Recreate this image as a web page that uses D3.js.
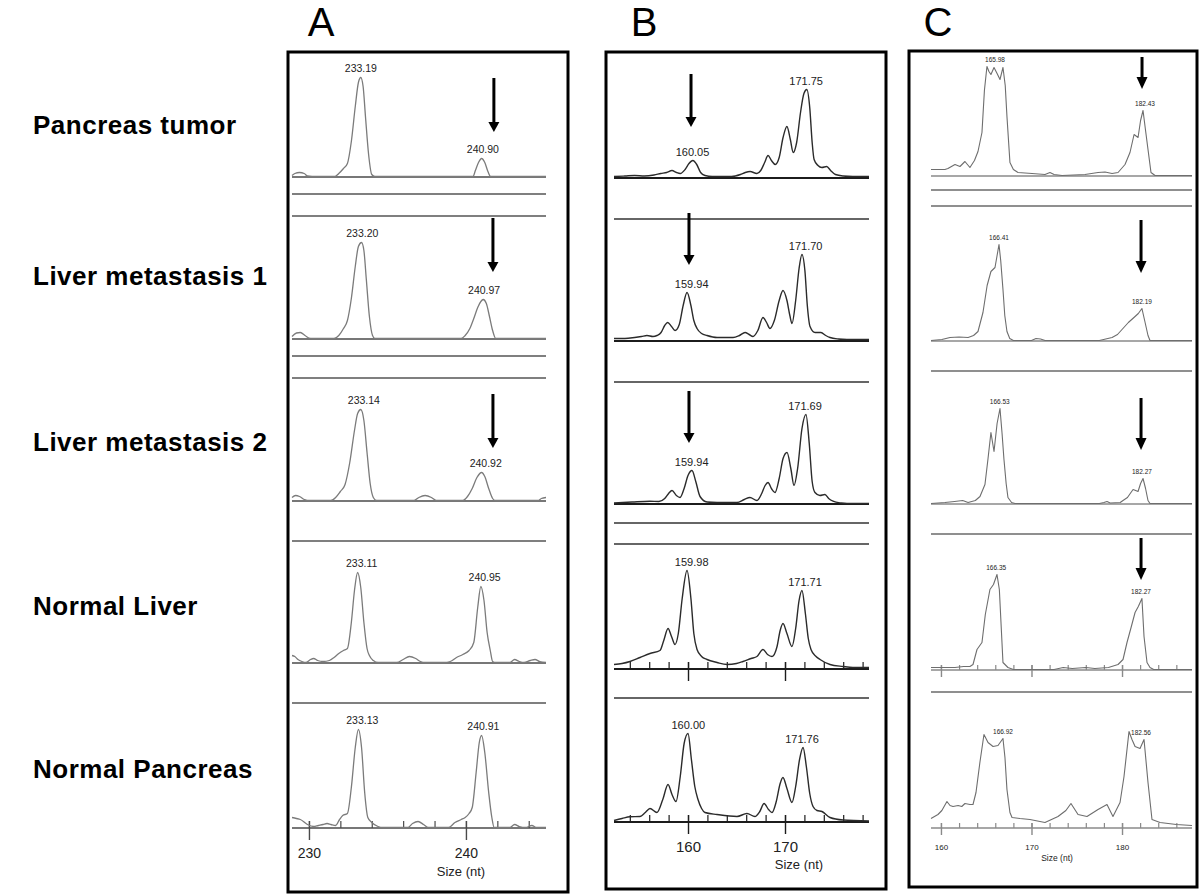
<!DOCTYPE html>
<html><head><meta charset="utf-8">
<script src="https://cdn.jsdelivr.net/npm/d3@7"></script>
<style>body{margin:0;background:#fff}svg{display:block}</style>
</head><body><svg id="chart" width="1200" height="895"></svg>
<script>
// ---------------- DATA ----------------
const sampleNames = ["Pancreas tumor","Liver metastasis 1","Liver metastasis 2","Normal Liver","Normal Pancreas"];
const panelNames = ["A","B","C"];
const axisTitle = "Size (nt)";

// Panel A traces: [size (nt), signal]
const traceA1 = [[228.92,1],[229.1,3],[229.4,4],[229.7,3],[229.9,0.5],[230.2,0],[231.66,0],[231.9,3],[232.2,8],[232.45,13],[232.7,35],[232.95,70],[233.15,94],[233.3,99],[233.45,90],[233.6,60],[233.8,22],[234.0,2],[234.2,0],[240.45,0],[240.6,6],[240.8,14],[241.0,18],[241.2,14],[241.4,5],[241.57,0],[245.1,0]];
const traceA2 = [[228.92,2],[229.2,5.5],[229.45,6],[229.75,3],[230.0,0.5],[230.2,0],[231.6,0],[231.9,3],[232.2,10],[232.45,18],[232.7,40],[232.95,72],[233.15,92],[233.35,96],[233.5,88],[233.65,60],[233.85,22],[234.05,3],[234.2,0],[239.7,0],[239.95,3],[240.25,10],[240.5,20],[240.75,31],[240.95,37],[241.1,39],[241.3,35],[241.5,22],[241.7,8],[241.9,0],[245.1,0]];
const traceA3 = [[228.92,3],[229.15,5],[229.4,4],[229.7,1],[229.9,0],[231.4,0],[231.7,3],[232.0,9],[232.3,16],[232.6,38],[232.9,70],[233.1,87],[233.3,91],[233.5,80],[233.7,48],[233.9,17],[234.1,3],[234.3,0],[236.7,0],[237.0,3],[237.4,5],[237.8,3],[238.1,0],[239.8,0],[240.1,4],[240.4,12],[240.7,23],[241.0,28],[241.2,24],[241.45,12],[241.7,2],[241.85,0],[244.6,0],[244.8,2],[245.1,3]];
const traceA4 = [[228.92,7],[229.1,6],[229.3,3],[229.55,1],[229.8,0],[230.1,3],[230.3,4],[230.55,2],[230.9,1],[231.3,2],[231.6,5],[231.9,9],[232.2,12],[232.45,14],[232.7,40],[232.9,72],[233.1,90],[233.3,75],[233.5,40],[233.7,14],[233.85,7],[234.1,2],[234.4,0],[235.6,0],[236.0,3],[236.4,6],[236.8,4],[237.1,1],[237.4,0],[238.6,0],[239.0,1],[239.4,5],[239.8,8],[240.2,12],[240.5,20],[240.75,55],[240.95,76],[241.15,62],[241.35,30],[241.55,12],[241.7,1],[241.9,0],[242.8,0],[243.1,3],[243.4,1],[243.7,0],[244.1,2],[244.4,3],[244.7,1],[245.1,0]];
const traceA5 = [[228.92,10],[229.2,9],[229.45,8],[229.9,3],[230.3,1],[230.6,2],[230.9,3],[231.15,4],[231.4,3],[231.7,2],[231.95,8],[232.15,12],[232.45,14],[232.7,40],[232.95,80],[233.15,98],[233.35,80],[233.55,35],[233.75,10],[234.0,5],[234.4,1],[234.7,0],[236.3,0],[236.6,4],[236.95,6],[237.3,3],[237.6,0],[238.9,0],[239.3,5],[239.7,8],[239.95,10],[240.2,14],[240.4,20],[240.65,55],[240.85,85],[241.0,92],[241.2,75],[241.45,35],[241.65,10],[241.8,0],[242.8,0],[243.1,3],[243.4,1],[243.8,0],[244.2,2],[244.5,0],[245.1,0]];

// Panel B traces
const traceB1 = [[152.37,1],[153.5,1.5],[154.5,2],[155.5,1.5],[156.5,2.5],[157.2,4],[157.8,5],[158.35,7],[158.8,5],[159.2,4],[159.7,8],[160.1,14],[160.5,17],[160.9,13],[161.3,5],[161.75,2],[162.5,1],[164.5,1],[165.4,3],[165.9,5],[166.4,6],[167.1,4],[167.5,7],[167.9,15],[168.25,22],[168.6,17],[169.0,13],[169.4,20],[169.8,40],[170.2,51],[170.55,38],[170.85,25],[171.2,35],[171.6,65],[171.95,84],[172.25,88],[172.55,70],[172.8,35],[173.0,18],[173.4,12],[173.8,10],[174.3,11],[174.7,7],[175.2,3],[176,1.5],[177,1],[178.66,1]];
const traceB2 = [[152.37,2],[153.5,2],[154.5,3],[155.2,4],[155.77,5],[156.39,4],[156.8,5],[157.22,8],[157.6,15],[157.9,18],[158.3,14],[158.66,10],[159.1,16],[159.5,35],[159.9,48],[160.3,35],[160.6,20],[160.93,12],[161.4,7],[161.96,5],[163,3],[164.64,3],[165.3,5],[165.88,8],[166.3,6],[166.7,4],[167.2,10],[167.73,23],[168.1,18],[168.45,12],[168.9,20],[169.4,40],[169.79,50],[170.2,40],[170.5,25],[170.72,17],[171.1,40],[171.45,72],[171.75,86],[172.05,70],[172.3,35],[172.58,14],[173.1,8],[173.71,8],[174.2,5],[174.64,3],[175.5,1.5],[176.39,1],[178.66,1]];
const traceB3 = [[152.37,0.5],[154.23,1.5],[156.08,2.3],[157.0,2],[157.6,5],[158.0,10],[158.35,13],[158.8,8],[159.18,6],[159.6,15],[160.0,28],[160.41,33],[160.8,22],[161.24,7],[161.96,1.5],[163,1],[165.05,1],[165.8,4],[166.39,6],[167.11,3],[167.6,10],[167.95,18],[168.25,21],[168.6,15],[168.97,11],[169.4,25],[169.8,45],[170.21,51],[170.6,35],[170.93,18],[171.3,35],[171.75,75],[172.16,89],[172.5,60],[172.8,22],[173.09,11],[173.6,8],[174.12,9],[174.5,5],[174.95,2.3],[175.8,0.5],[176.39,0],[178.66,0]];
const traceB4 = [[152.37,4],[153.2,5],[154.02,7],[155.05,11],[156.08,15],[157.11,18],[157.5,28],[157.94,40],[158.3,32],[158.66,24],[159.0,35],[159.4,70],[159.9,98],[160.3,70],[160.6,35],[160.93,19],[161.4,12],[161.96,9],[162.99,6],[164.02,4],[165.0,5],[165.67,7],[166.5,10],[167.11,12],[167.73,19],[168.2,14],[168.66,12],[169.18,22],[169.5,38],[169.79,45],[170.2,35],[170.72,22],[171.1,40],[171.45,68],[171.75,78],[172.1,55],[172.4,30],[172.68,19],[173.2,12],[173.61,9],[174.64,4],[175.98,2],[177.0,1],[178.66,1]];
const traceB5 = [[152.37,1],[153.2,3],[154.02,4.7],[155.05,5],[155.6,9],[156.08,13],[156.8,9],[157.4,22],[157.94,37],[158.35,27],[158.76,20],[159.2,45],[159.6,78],[160.0,88],[160.35,62],[160.7,35],[161.03,22],[161.4,13],[161.75,9],[162.99,7],[165.05,5],[166.08,8],[166.9,5],[167.4,10],[167.84,18],[168.3,12],[168.66,9],[169.1,20],[169.5,38],[169.79,44],[170.2,33],[170.72,19],[171.1,35],[171.5,62],[171.86,74],[172.2,55],[172.55,28],[172.89,15],[173.3,11],[173.81,10],[174.64,4],[175.98,1.5],[178.66,0.5]];

// Panel C traces
const traceC1 = [[158.9,6],[160.44,6],[160.77,7],[161.55,11],[162.1,9],[162.65,14],[163.2,8],[163.7,15],[164.09,24],[164.53,43],[164.8,85],[165.08,109],[165.3,104],[165.52,101],[165.86,108],[166.2,102],[166.52,96],[166.85,108],[167.1,90],[167.29,59],[167.62,13],[168.0,6],[168.51,3],[170.06,2],[171.49,1],[172.04,3],[172.5,1],[173.37,0],[175.91,1],[177.35,3],[178.12,3.5],[178.9,2],[179.56,3],[180.33,11],[180.88,23],[181.33,41],[181.77,38],[182.05,55],[182.32,65],[182.6,45],[182.87,26],[183.2,3],[183.65,0],[187.73,0]];
const traceC2 = [[158.9,0],[160.1,1],[161.0,3],[162.0,3.5],[163.0,3],[163.6,5],[164.09,9],[164.64,28],[165.1,55],[165.52,69],[165.97,73],[166.2,85],[166.41,96],[166.6,80],[166.85,51],[167.05,25],[167.29,9],[167.6,2],[168.0,0],[170.0,0],[170.5,2],[171.0,1.5],[171.5,0],[177.5,0],[178.9,3],[179.5,6],[180.0,11],[180.7,18],[181.44,24],[181.8,27],[182.2,32],[182.5,20],[182.87,5],[183.09,0],[187.73,0]];
const traceC3 = [[158.9,0],[160.44,1],[161.5,2],[162.4,3],[163.0,1],[163.8,3],[164.31,7],[164.86,19],[165.2,45],[165.52,71],[165.86,52],[166.2,80],[166.52,95],[166.75,70],[166.96,44],[167.2,20],[167.4,6],[167.8,1],[168.18,0],[177.5,0],[178.0,1],[178.34,2],[178.7,0.5],[179.8,1],[180.11,3],[180.6,6],[181.22,14],[181.5,13],[181.77,12],[182.05,20],[182.32,25],[182.6,15],[182.87,3],[183.09,0],[187.73,0]];
const traceC4 = [[158.9,2],[161.55,2],[162.5,3],[163.2,3],[163.54,5],[163.98,20],[164.53,27],[164.9,55],[165.41,80],[165.8,85],[166.19,95],[166.45,80],[166.74,27],[166.85,7],[167.4,2],[168.0,0],[172.5,0],[173.5,2],[174.5,1],[176.0,2],[177.0,1],[178.5,2],[179.56,5],[180.11,10],[180.55,27],[181.0,42],[181.44,57],[181.8,63],[182.2,71],[182.43,33],[182.76,7],[183.09,2],[183.5,0],[187.73,0]];
const traceC5 = [[158.9,9],[159.67,13],[160.1,17],[160.66,26],[161.0,22],[161.33,21],[161.9,22],[162.3,21],[162.65,24],[163.2,23],[163.54,23],[163.87,35],[164.3,65],[164.75,93],[165.2,85],[165.75,81],[166.3,82],[166.85,89],[167.07,70],[167.29,38],[167.62,15],[167.85,10],[168.73,9],[169.83,8],[171.49,5],[172.93,11],[173.8,17],[174.36,24],[175.14,13],[176.13,11],[177.35,18],[178.34,23],[179.0,11],[179.78,25],[180.22,51],[180.77,96],[181.1,88],[181.44,81],[181.99,79],[182.43,88],[182.87,45],[183.31,8],[184.2,5],[186.0,3],[187.73,2]];

// Peak labels: [track, text, size, signal]
const peakLabelsA = [[0,"233.19",233.31,99],[0,"240.90",241.08,18],[1,"233.20",233.4,96],[1,"240.97",241.16,39],[2,"233.14",233.5,91],[2,"240.92",241.26,28],[3,"233.11",233.36,90],[3,"240.95",241.19,76],[4,"233.13",233.4,98],[4,"240.91",241.11,92]];
const peakLabelsB = [[0,"160.05",160.46,17],[0,"171.75",172.18,88],[1,"159.94",160.38,48],[1,"171.70",172.13,86],[2,"159.94",160.38,33],[2,"171.69",172.06,89],[3,"159.98",160.38,98],[3,"171.71",172.06,78],[4,"160.00",160.03,88],[4,"171.76",171.75,74]];
const peakLabelsC = [[0,"165.98",165.97,109],[0,"182.43",182.54,65],[1,"166.41",166.41,96],[1,"182.19",182.2,32],[2,"166.53",166.5,95],[2,"182.27",182.2,25],[3,"166.35",166.1,95],[3,"182.27",182.1,71],[4,"166.92",166.85,89],[4,"182.56",182.1,88]];

// Arrows: [track, size, top signal, tip signal]
const arrowsA = [[0,241.78,99,45],[1,241.72,121,67],[2,241.72,107,53]];
const arrowsB = [[0,160.31,104,51],[1,160.1,128,76],[2,160.1,113,61]];
const arrowsC = [[0,182.21,119,87],[1,182.1,121,68],[2,182.1,106,54],[3,182.1,132,90]];

// Axes
const xDomainA = [228.92,245.1], xDomainB = [152.37,178.66], xDomainC = [158.9,187.73];
const minorTicksA = [230,232,234,236,238,240,242,244];
const majorTicksA = [230,240];
const minorTicksB = [154,156,158,160,162,164,166,168,170,172,174,176,178];
const majorTicksB = [160,170];
const minorTicksC = [160,162,164,166,168,170,172,174,176,178,180,182,184,186];
const majorTicksC = [160,170,180];

// ---------------- LAYOUT / STYLE ----------------
const panels = [
  {name:panelNames[0], traces:[traceA1,traceA2,traceA3,traceA4,traceA5], labels:peakLabelsA, arrows:arrowsA,
   domain:xDomainA, minor:minorTicksA, major:majorTicksA,
   frame:[288,52,568,892], range:[292,546], baselines:[177,339,501,663,828], separators:[194,216,356,378,541,703],
   tickTracks:[4], letterX:321,
   traceColor:"#7b7b7b", traceWidth:1.3, baseColor:"#4a4a4a", baseWidth:1.6, sepColor:"#555", sepWidth:1.6,
   curve:d3.curveMonotoneX, labelSize:10.5, labelOff:6, tickUp:7, tickDown:12, tickFont:14, tickTextY:30,
   titleFont:13, titleY:876, titleX:461, arrowHead:[10,11], arrowWidth:3},
  {name:panelNames[1], traces:[traceB1,traceB2,traceB3,traceB4,traceB5], labels:peakLabelsB, arrows:arrowsB,
   domain:xDomainB, minor:minorTicksB, major:majorTicksB,
   frame:[606,52,886,889], range:[614,869], baselines:[178,341,504,669,822], separators:[219,382,523,544,698],
   tickTracks:[3,4], letterX:644,
   traceColor:"#2b2b2b", traceWidth:1.4, baseColor:"#1c1c1c", baseWidth:2.2, sepColor:"#333", sepWidth:1.6,
   curve:d3.curveMonotoneX, labelSize:11, labelOff:5, tickUp:7, tickDown:12, tickFont:15, tickTextY:30,
   titleFont:13, titleY:869, titleX:799, arrowHead:[10,11], arrowWidth:3},
  {name:panelNames[2], traces:[traceC1,traceC2,traceC3,traceC4,traceC5], labels:peakLabelsC, arrows:arrowsC,
   domain:xDomainC, minor:minorTicksC, major:majorTicksC,
   frame:[909,51,1197,887], range:[931,1192], baselines:[176,341,504,670,828], separators:[190,206,371,534,692],
   tickTracks:[3,4], letterX:938,
   traceColor:"#6e6e6e", traceWidth:1.1, baseColor:"#8a8a8a", baseWidth:1.3, sepColor:"#6a6a6a", sepWidth:1.6,
   curve:d3.curveLinear, labelSize:6.5, labelOff:5, tickUp:5, tickDown:7, tickFont:8, tickTextY:22,
   titleFont:8.5, titleY:861, titleX:1057, arrowHead:[12,11], arrowWidth:3}
];
const rowLabelY = [134,285,451,615,778];

// ---------------- DRAW ----------------
const svg = d3.select("#chart");
svg.append("rect").attr("width",1200).attr("height",895).attr("fill","#fff");

// Row labels
svg.append("g").selectAll("text").data(sampleNames).join("text")
  .attr("x",33).attr("y",(d,i)=>rowLabelY[i])
  .attr("font-family","Liberation Sans, Arial, Helvetica, sans-serif")
  .attr("font-weight","bold").attr("font-size",26).attr("letter-spacing",0.5)
  .attr("fill","#000").text(d=>d);

panels.forEach(p=>{
  const g = svg.append("g");
  const x = d3.scaleLinear().domain(p.domain).range(p.range);
  const ys = p.baselines.map(b=>d3.scaleLinear().domain([0,100]).range([b,b-100]));

  // Panel letter
  g.append("text").attr("x",p.letterX).attr("y",36).attr("text-anchor","middle")
    .attr("font-family","Liberation Sans, Arial, sans-serif").attr("font-size",40).text(p.name);

  // Frame
  g.append("rect").attr("x",p.frame[0]).attr("y",p.frame[1])
    .attr("width",p.frame[2]-p.frame[0]).attr("height",p.frame[3]-p.frame[1])
    .attr("fill","none").attr("stroke","#000").attr("stroke-width",3);

  // Separators
  g.append("g").selectAll("line").data(p.separators).join("line")
    .attr("x1",p.range[0]).attr("x2",p.range[1]).attr("y1",d=>d).attr("y2",d=>d)
    .attr("stroke",p.sepColor).attr("stroke-width",p.sepWidth);

  // Baselines
  g.append("g").selectAll("line").data(ys).join("line")
    .attr("x1",p.range[0]).attr("x2",p.range[1]).attr("y1",d=>d(0)).attr("y2",d=>d(0))
    .attr("stroke",p.baseColor).attr("stroke-width",p.baseWidth);

  // Ticks
  p.tickTracks.forEach(ti=>{
    const y0 = ys[ti](0);
    const minorAx = g.append("g").attr("transform",`translate(0,${y0})`)
      .call(d3.axisBottom(x).tickValues(p.minor).tickSizeInner(-p.tickUp).tickSizeOuter(0).tickFormat(""));
    minorAx.select(".domain").remove();
    minorAx.selectAll("line").attr("stroke",p.baseColor).attr("stroke-width",1.2);
    const labeled = ti===4;
    const majorAx = g.append("g").attr("transform",`translate(0,${y0})`)
      .call(d3.axisBottom(x).tickValues(p.major).tickSizeInner(p.tickDown).tickSizeOuter(0).tickFormat(labeled? d3.format("d"):""));
    majorAx.select(".domain").remove();
    majorAx.selectAll("line").attr("y1",-p.tickUp).attr("stroke",p.baseColor).attr("stroke-width",1.4);
    majorAx.selectAll("text").attr("y",p.tickTextY).attr("dy",null)
      .attr("font-family","Liberation Sans, Arial, sans-serif").attr("font-size",p.tickFont).attr("fill","#222");
    if(labeled){
      g.append("text").attr("x",p.titleX).attr("y",p.titleY).attr("text-anchor","middle")
        .attr("font-family","Liberation Sans, Arial, sans-serif").attr("font-size",p.titleFont)
        .attr("fill","#222").text(axisTitle);
    }
  });

  // Traces
  p.traces.forEach((tr,i)=>{
    const line = d3.line().x(d=>x(d[0])).y(d=>ys[i](d[1])-0.5).curve(p.curve);
    g.append("path").attr("d",line(tr)).attr("fill","none")
      .attr("stroke",p.traceColor).attr("stroke-width",p.traceWidth).attr("stroke-linejoin","round");
  });

  // Peak labels
  g.append("g").selectAll("text").data(p.labels).join("text")
    .attr("x",d=>x(d[2])).attr("y",d=>ys[d[0]](d[3])-p.labelOff)
    .attr("text-anchor","middle").attr("font-family","Liberation Sans, Arial, sans-serif")
    .attr("font-size",p.labelSize).attr("fill","#222").text(d=>d[1]);

  // Arrows
  const ag = g.append("g");
  p.arrows.forEach(a=>{
    const ax = x(a[1]), yTop = ys[a[0]](a[2]), yTip = ys[a[0]](a[3]);
    const hl = p.arrowHead[0], hw = p.arrowHead[1];
    ag.append("line").attr("x1",ax).attr("x2",ax).attr("y1",yTop).attr("y2",yTip-hl+1)
      .attr("stroke","#000").attr("stroke-width",p.arrowWidth);
    ag.append("path").attr("d",`M${ax-hw/2},${yTip-hl}L${ax+hw/2},${yTip-hl}L${ax},${yTip}Z`).attr("fill","#000");
  });
});
</script></body></html>
